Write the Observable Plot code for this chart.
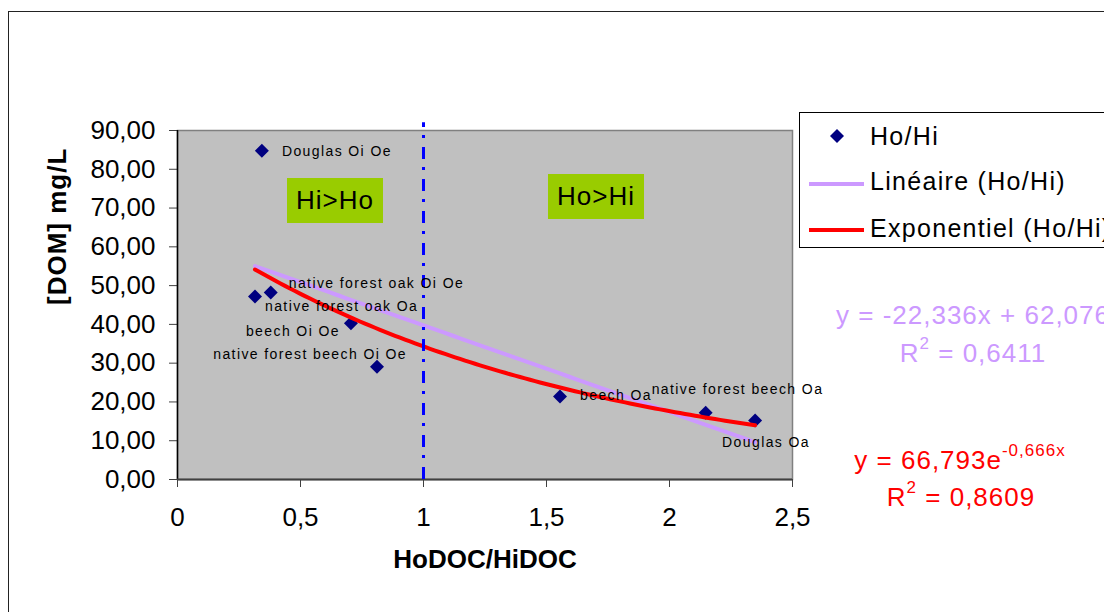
<!DOCTYPE html>
<html>
<head>
<meta charset="utf-8">
<script src="https://cdn.jsdelivr.net/npm/d3@7"></script>
<script src="https://cdn.jsdelivr.net/npm/@observablehq/plot@0.6"></script>
<style>
  html, body { margin: 0; padding: 0; background: #fff; }
  body { width: 1104px; height: 612px; overflow: hidden; position: relative;
         font-family: "Liberation Sans", Arial, sans-serif; }
  #frame { position: absolute; left: 8px; top: 11px; width: 1300px; height: 800px;
           border: 1.5px solid #222; box-sizing: border-box; }
  #chart { position: absolute; left: 0; top: 0; }
  .box { position: absolute; background: #99CC00; display: flex; align-items: center;
         justify-content: center; font-size: 26px; letter-spacing: 1px; color: #000; }
  #legend { position: absolute; left: 799px; top: 112px; width: 400px; height: 136px;
            border: 1.2px solid #000; box-sizing: border-box; background: #fff; }
  .legtext { position: absolute; font-size: 25px; letter-spacing: 1.3px; line-height: 1; color: #000; white-space: nowrap; }
  .eq { position: absolute; font-size: 26px; letter-spacing: 1px; line-height: 1; text-align: center;
        transform: translate(-50%, -50%); white-space: nowrap; }
  .eq sup { font-size: 17px; line-height: 0; position: relative; top: -3px; }
</style>
</head>
<body>
<div id="frame"></div>
<div id="chart"></div>
<script>
// ---- data ----
const sampleLabels = ["Douglas Oi Oe", "native forest oak Oi Oe", "native forest oak Oa", "beech Oi Oe",
                      "native forest beech Oi Oe", "beech Oa", "native forest beech Oa", "Douglas Oa"];
const ratioHoHi = [0.343, 0.379, 0.315, 0.705, 0.811, 1.555, 2.147, 2.348];
const domMgL    = [84.8, 48.2, 47.2, 40.3, 29.1, 21.4, 17.2, 15.2];
const yTicks = [0, 10, 20, 30, 40, 50, 60, 70, 80, 90];
const xTicks = [0, 0.5, 1, 1.5, 2, 2.5];
const linearCoef = { slope: -22.336, intercept: 62.076, r2: "0,6411" };
const expCoef = { a: 66.793, b: -0.666, r2: "0,8609" };
const threshold = 1;

// label placement (pixel offsets from each point)
const labelLayout = [
  { dx: 20, dy: 1, anchor: "start" },
  { dx: 18, dy: -9, anchor: "start" },
  { dx: 10, dy: 10, anchor: "start" },
  { dx: -11, dy: 8, anchor: "end" },
  { dx: 30, dy: -12, anchor: "end" },
  { dx: 20, dy: -1, anchor: "start" },
  { dx: -54, dy: -23, anchor: "start" },
  { dx: -33, dy: 22, anchor: "start" }
];

const points = sampleLabels.map((label, i) => ({ label, x: ratioHoHi[i], y: domMgL[i] }));
const xMin = d3.min(ratioHoHi), xMax = d3.max(ratioHoHi);
const xs = d3.range(0, 101).map(k => xMin + (xMax - xMin) * k / 100);
const linData = xs.map(x => ({ x, y: linearCoef.slope * x + linearCoef.intercept }));
const expData = xs.map(x => ({ x, y: expCoef.a * Math.exp(expCoef.b * x) }));

const fmtY = d => d.toFixed(2).replace(".", ",");
const fmtX = d => String(d).replace(".", ",");

const labelMarks = points.map((p, i) => Plot.text([p], {
  x: "x", y: "y", text: "label",
  dx: labelLayout[i].dx, dy: labelLayout[i].dy, textAnchor: labelLayout[i].anchor,
  fontSize: 14, fill: "#000"
}));

const plot = Plot.plot({
  width: 1104, height: 612,
  marginLeft: 177, marginRight: 312, marginTop: 130, marginBottom: 133,
  x: { domain: [0, 2.5] },
  y: { domain: [0, 90] },
  style: { fontFamily: "'Liberation Sans', Arial, sans-serif", background: "transparent", overflow: "visible", color: "#000" },
  marks: [
    Plot.frame({ fill: "#C0C0C0", stroke: "#808080", strokeWidth: 1.5 }),
    Plot.axisY({ ticks: yTicks, tickFormat: fmtY, fontSize: 26, tickSize: 8, tickPadding: 14, label: null, stroke: "#404040" }),
    Plot.axisX({ ticks: xTicks, tickFormat: fmtX, fontSize: 26, tickSize: 8, tickPadding: 20, label: null, stroke: "#404040" }),
    Plot.ruleX([0], { stroke: "#000", strokeWidth: 1.5 }),
    Plot.ruleY([0], { stroke: "#404040", strokeWidth: 2 }),
    Plot.dot(points, { x: "x", y: "y", symbol: "diamond2", r: 6.3, fill: "#000080", stroke: "none" }),
    Plot.line(linData, { x: "x", y: "y", stroke: "#CC99FF", strokeWidth: 4 }),
    Plot.line(expData, { x: "x", y: "y", stroke: "#FF0000", strokeWidth: 4 }),
    Plot.ruleX([threshold], { y1: 0, y2: 92, stroke: "#0000FF", strokeWidth: 3, strokeDasharray: "12,9,3,8" }),
    ...labelMarks,
    Plot.text(["HoDOC/HiDOC"], { frameAnchor: "bottom", dy: 88, fontSize: 26, fontWeight: "bold", fill: "#000" }),
    Plot.text(["[DOM] mg/L"], { frameAnchor: "left", dx: -120, rotate: -90, fontSize: 26, fontWeight: "bold", fill: "#000" })
  ]
});
document.getElementById("chart").appendChild(plot);

// letter spacing tweaks to match the reference's wide text rendering
d3.select(plot).selectAll("text").each(function () {
  const t = this.textContent;
  if (sampleLabels.includes(t)) this.setAttribute("letter-spacing", "1.4");
  if (t === "[DOM] mg/L") this.setAttribute("letter-spacing", "1");
});

// ---- annotations, legend and trend equations ----
const body = document.body;
function addBox(text, left, top, w, h) {
  const d = document.createElement("div");
  d.className = "box";
  Object.assign(d.style, { left: left + "px", top: top + "px", width: w + "px", height: h + "px" });
  d.textContent = text;
  body.appendChild(d);
}
addBox("Hi>Ho", 287, 178, 96, 45);
addBox("Ho>Hi", 548, 174, 96, 45);

const legend = document.createElement("div");
legend.id = "legend";
legend.innerHTML = `
  <svg width="400" height="136" style="position:absolute;left:0;top:0">
    <path d="M37,16 L44,23 L37,30 L30,23 Z" fill="#000080"/>
    <line x1="9" x2="64" y1="71" y2="71" stroke="#CC99FF" stroke-width="4"/>
    <line x1="9" x2="64" y1="117" y2="117" stroke="#FF0000" stroke-width="4"/>
  </svg>`;
const legendItems = [
  { text: "Ho/Hi", top: 11 },
  { text: "Linéaire (Ho/Hi)", top: 56 },
  { text: "Exponentiel (Ho/Hi)", top: 103 }
];
legendItems.forEach(it => {
  const t = document.createElement("div");
  t.className = "legtext";
  t.style.left = "70px"; t.style.top = it.top + "px";
  t.textContent = it.text;
  legend.appendChild(t);
});
body.appendChild(legend);

const fmtNum = v => String(v).replace(".", ",");
function addEq(html, cx, cy, color) {
  const d = document.createElement("div");
  d.className = "eq";
  Object.assign(d.style, { left: cx + "px", top: cy + "px", color });
  d.innerHTML = html;
  body.appendChild(d);
}
addEq(`y = ${fmtNum(linearCoef.slope)}x + ${fmtNum(linearCoef.intercept)}`, 973, 315, "#CC99FF");
addEq(`R<sup>2</sup> = ${linearCoef.r2}`, 973, 353, "#CC99FF");
addEq(`y = ${fmtNum(expCoef.a)}e<sup>${fmtNum(expCoef.b)}x</sup>`, 960, 460, "#FF0000");
addEq(`R<sup>2</sup> = ${expCoef.r2}`, 961, 497, "#FF0000");
</script>
</body>
</html>
